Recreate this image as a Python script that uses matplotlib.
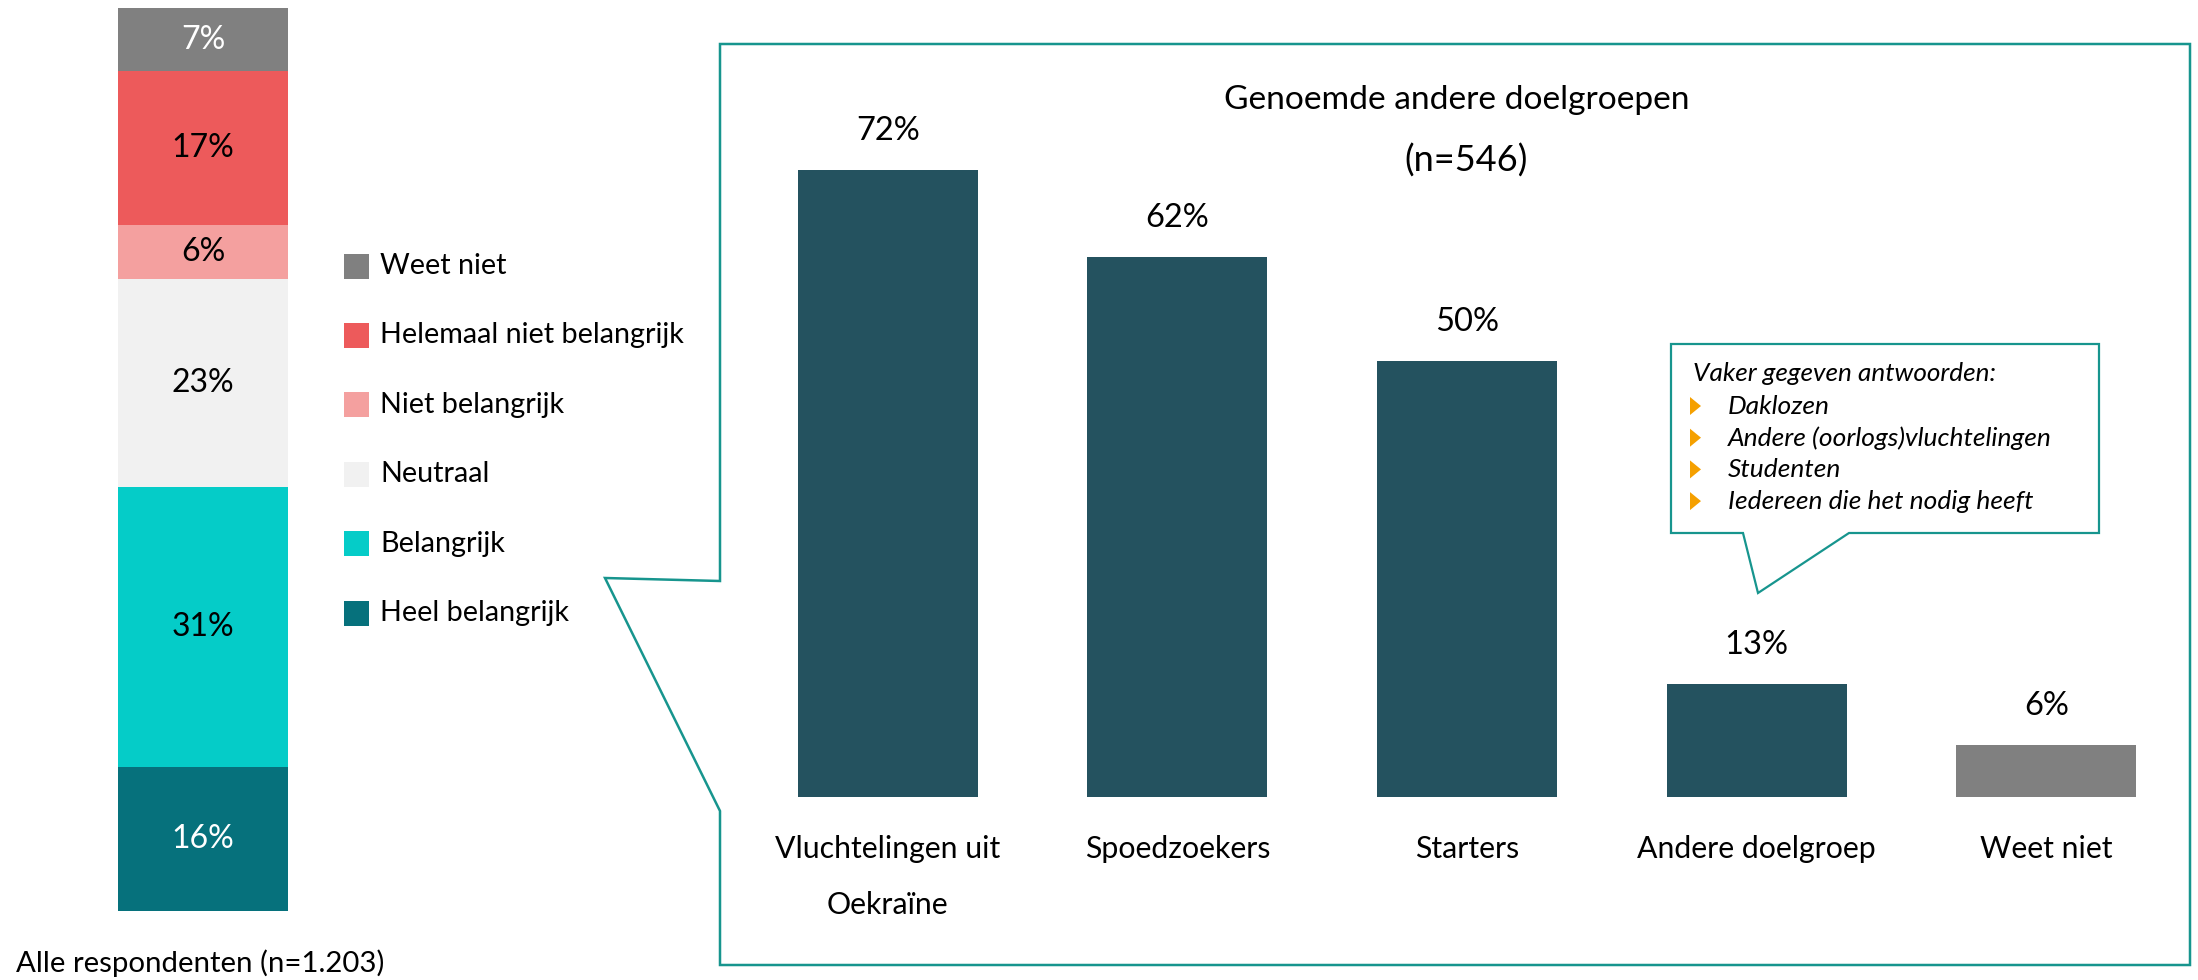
import matplotlib
matplotlib.use("Agg")
import matplotlib.pyplot as plt
from matplotlib.patches import Polygon, Rectangle

plt.rcParams['font.family'] = ['Lato', 'DejaVu Sans']

# ---------------- data ----------------
stack_categories = ["Heel belangrijk", "Belangrijk", "Neutraal", "Niet belangrijk",
                    "Helemaal niet belangrijk", "Weet niet"]
stack_values = [16, 31, 23, 6, 17, 7]
stack_colors = ["#06717C", "#05CCC8", "#F1F1F1", "#F4A09F", "#ED5A5B", "#808080"]
stack_label_colors = ["white", "black", "black", "black", "black", "white"]
stack_xlabel = "Alle respondenten (n=1.203)"

bar_categories = ["Vluchtelingen uit\nOekraïne", "Spoedzoekers", "Starters",
                  "Andere doelgroep", "Weet niet"]
bar_values = [72, 62, 50, 13, 6]
bar_colors = ["#24525F", "#24525F", "#24525F", "#24525F", "#808080"]
panel_title = "Genoemde andere doelgroepen"
panel_n = "(n=546)"

callout_header = "Vaker gegeven antwoorden:"
callout_items = ["Daklozen", "Andere (oorlogs)vluchtelingen", "Studenten",
                 "Iedereen die het nodig heeft"]

# ---------------- layout ----------------
W, H = 2198, 980
DPI = 100
fig = plt.figure(figsize=(W / DPI, H / DPI), dpi=DPI)
TEAL = "#17958E"


def px_axes(x0, y0, x1, y1, **kw):
    """axes from pixel box (top-left origin)"""
    return fig.add_axes([x0 / W, 1 - y1 / H, (x1 - x0) / W, (y1 - y0) / H], **kw)


# background overlay axes in pixel coordinates
bg = fig.add_axes([0, 0, 1, 1], zorder=0)
bg.set_xlim(0, W)
bg.set_ylim(H, 0)
bg.axis("off")

ov = fig.add_axes([0, 0, 1, 1], zorder=10)
ov.set_xlim(0, W)
ov.set_ylim(H, 0)
ov.axis("off")
ov.patch.set_alpha(0)

# main panel border with pointer
panel = Polygon([(720, 44), (2190, 44), (2190, 965), (720, 965), (720, 811),
                 (605, 578), (720, 581)], closed=True, fill=False,
                edgecolor=TEAL, linewidth=1.8, joinstyle="miter")
bg.add_patch(panel)

# ---------------- left stacked bar ----------------
axl = px_axes(118, 8, 288, 911, zorder=2)
bottom = 0
for v, c, lc in zip(stack_values, stack_colors, stack_label_colors):
    axl.bar([0], [v], bottom=bottom, width=1.0, color=c, linewidth=0)
    axl.text(0, bottom + v / 2, f"{v}%", ha="center", va="center",
             fontsize=23, color=lc)
    bottom += v
axl.set_xlim(-0.5, 0.5)
axl.set_ylim(0, 100)
axl.axis("off")

# legend (top to bottom: reverse order)
leg_y0, leg_dy = 266, 69.4
for i, (name, c) in enumerate(zip(stack_categories[::-1], stack_colors[::-1])):
    yc = leg_y0 + i * leg_dy
    ov.add_patch(Rectangle((344, yc - 12.5), 25, 25, facecolor=c, edgecolor="none"))
    ov.text(380, yc, name, ha="left", va="center", fontsize=20.7, color="black")

ov.text(16, 963, stack_xlabel, ha="left", va="center", fontsize=21.2, color="black")

# ---------------- right bar chart ----------------
axr = px_axes(743, 100, 2191, 797, zorder=2)
axr.patch.set_alpha(0)
x = list(range(len(bar_values)))
axr.bar(x, bar_values, width=0.622, color=bar_colors, linewidth=0)
axr.set_xlim(-0.5, len(bar_values) - 0.5)
axr.set_ylim(0, 80)
axr.axis("off")
for xi, v in zip(x, bar_values):
    axr.annotate(f"{v}%", xy=(xi, v), xytext=(0, 39 * 72 / DPI),
                 textcoords="offset points", ha="center", va="center",
                 fontsize=23.5, color="black")
for xi, lab in zip(x, bar_categories):
    axr.annotate(lab, xy=(xi, 0), xytext=(0, -38 * 72 / DPI),
                 textcoords="offset points", ha="center", va="top",
                 fontsize=21.8, color="black", linespacing=2.2)

ov.text(1457, 100, panel_title, ha="center", va="center", fontsize=24.1)
ov.text(1466, 161, panel_n, ha="center", va="center", fontsize=26)

# ---------------- callout ----------------
callout = Polygon([(1671, 344), (2099, 344), (2099, 533), (1849, 533),
                   (1758, 593), (1743, 533), (1671, 533)], closed=True,
                  facecolor="white", edgecolor=TEAL, linewidth=1.6,
                  joinstyle="miter")
ov.add_patch(callout)
ov.text(1693, 373, callout_header, ha="left", va="center", fontsize=18.8,
        style="italic")
for i, item in enumerate(callout_items):
    yc = 406 + i * 31.7
    ov.add_patch(Polygon([(1690, yc - 9), (1701, yc), (1690, yc + 9)],
                         closed=True, facecolor="#F5A000", edgecolor="none"))
    ov.text(1728, yc, item, ha="left", va="center", fontsize=19, style="italic")

fig.savefig("out.png", dpi=DPI)
